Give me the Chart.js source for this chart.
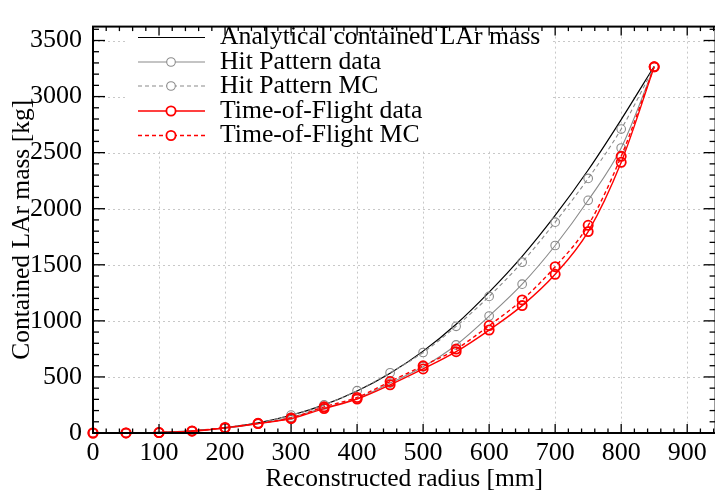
<!DOCTYPE html>
<html><head><meta charset="utf-8">
<script src="https://cdn.jsdelivr.net/npm/chart.js@4/dist/chart.umd.min.js"></script>
<style>html,body{margin:0;padding:0;background:#fff;overflow:hidden;} #wrap{width:715px;height:497px;overflow:hidden;position:relative;} canvas{position:absolute;left:0;top:0;}</style>
</head><body><div id="wrap"><canvas id="c" width="722" height="497"></canvas></div>
<script>
// ---- data ----
const radii      = [0, 50, 100, 150, 200, 250, 300, 350, 400, 450, 500, 550, 600, 650, 700, 750, 800, 850];
const analytical = [0, 0.7, 5.8, 19.7, 46.8, 91, 158, 251, 374, 533, 730, 970, 1256, 1575, 1940, 2345, 2795, 3270];
const hitData    = [0, 0.5, 4, 17, 42, 82, 140, 225, 305, 445, 590, 785, 1043, 1327, 1672, 2075, 2541, 3265];
const hitMC      = [0, 0.6, 5, 19, 46, 89, 160, 250, 377, 537, 718, 951, 1218, 1523, 1880, 2270, 2710, 3265];
const tofData    = [0, 0.4, 3.5, 16, 45, 84, 128, 218, 303, 430, 571, 725, 918, 1136, 1415, 1796, 2414, 3265];
const tofMC      = [0, 0.4, 3.8, 18, 49, 86, 134, 233, 317, 459, 599, 748, 958, 1187, 1483, 1852, 2467, 3265];
const seriesNames = ["Analytical contained LAr mass", "Hit Pattern data", "Hit Pattern MC", "Time-of-Flight data", "Time-of-Flight MC"];
const xMajorTicks = [0, 100, 200, 300, 400, 500, 600, 700, 800, 900];
const yMajorTicks = [0, 500, 1000, 1500, 2000, 2500, 3000, 3500];
const xTitle = "Reconstructed radius [mm]";
const yTitle = "Contained LAr mass [kg]";

const FONT = "'Liberation Serif', 'Times New Roman', serif";
const GRAY = '#8a8a8a';
const RED = '#ff0000';

function pts(arr){ return radii.map((r,i)=>({x:r, y:arr[i]})); }

const datasets = [
  {label: seriesNames[0], data: pts(analytical), order:5, borderColor:'#000', borderWidth:1.2, pointRadius:0, borderDash:[]},
  {label: seriesNames[1], data: pts(hitData), order:4, borderColor:GRAY, borderWidth:1.1, pointRadius:4.3, pointBorderWidth:1.1, pointBorderColor:GRAY, pointBackgroundColor:'rgba(0,0,0,0)', borderDash:[]},
  {label: seriesNames[2], data: pts(hitMC), order:3, borderColor:GRAY, borderWidth:1.1, pointRadius:4.3, pointBorderWidth:1.1, pointBorderColor:GRAY, pointBackgroundColor:'rgba(0,0,0,0)', borderDash:[4,3]},
  {label: seriesNames[3], data: pts(tofData), order:1, borderColor:RED, borderWidth:1.4, pointRadius:4.6, pointBorderWidth:1.8, pointBorderColor:RED, pointBackgroundColor:'rgba(0,0,0,0)', borderDash:[]},
  {label: seriesNames[4], data: pts(tofMC), order:2, borderColor:RED, borderWidth:1.4, pointRadius:4.6, pointBorderWidth:1.8, pointBorderColor:RED, pointBackgroundColor:'rgba(0,0,0,0)', borderDash:[4,3]},
];
datasets.forEach(d=>{ d.cubicInterpolationMode='monotone'; d.fill=false; d.clip=false; d.pointHoverRadius=d.pointRadius; });

const framePlugin = {
  id:'frame',
  beforeDatasetsDraw(chart){
    const {ctx, chartArea:a, scales:{x, y}} = chart;
    ctx.save();
    ctx.strokeStyle = '#c8c8c8'; ctx.lineWidth = 1; ctx.setLineDash([2,3]);
    xMajorTicks.forEach(v=>{ if(v===0) return; const px=Math.round(x.getPixelForValue(v))+0.5; ctx.beginPath(); ctx.moveTo(px,a.top); ctx.lineTo(px,a.bottom); ctx.stroke(); });
    yMajorTicks.forEach(v=>{ if(v===0) return; const py=Math.round(y.getPixelForValue(v))+0.5; ctx.beginPath(); ctx.moveTo(a.left,py); ctx.lineTo(a.right,py); ctx.stroke(); });
    ctx.setLineDash([]);
    ctx.fillStyle = '#fff';
    ctx.fillRect(128, 22, 422, 128);
    ctx.restore();
  },
  afterDatasetsDraw(chart){
    const {ctx, chartArea:a, scales:{x, y}} = chart;
    ctx.save();
    ctx.strokeStyle = '#000'; ctx.lineWidth = 2; ctx.setLineDash([]);
    ctx.strokeRect(a.left, a.top, a.right-a.left, a.bottom-a.top);
    ctx.lineWidth = 1.3;
    for(let v=0; v<=x.max; v+=20){
      const px = x.getPixelForValue(v);
      const major = v % 100 === 0;
      const L = major ? 9 : 4.5;
      ctx.beginPath(); ctx.moveTo(px, a.bottom); ctx.lineTo(px, a.bottom-L); ctx.stroke();
      ctx.beginPath(); ctx.moveTo(px, a.top); ctx.lineTo(px, a.top+L); ctx.stroke();
    }
    for(let v=0; v<=y.max; v+=100){
      const py = y.getPixelForValue(v);
      const major = v % 500 === 0;
      const L = major ? 12 : 6;
      ctx.beginPath(); ctx.moveTo(a.left, py); ctx.lineTo(a.left+L, py); ctx.stroke();
      ctx.beginPath(); ctx.moveTo(a.right, py); ctx.lineTo(a.right-L, py); ctx.stroke();
    }
    ctx.restore();
  },
  afterDraw(chart){
    const ctx = chart.ctx;
    ctx.save();
    const rows = [37.5, 62, 86, 111, 135.5];
    chart.data.datasets.forEach((d,i)=>{
      const yy = rows[i];
      ctx.strokeStyle = d.borderColor; ctx.lineWidth = d.borderWidth; ctx.setLineDash(d.borderDash||[]);
      ctx.beginPath(); ctx.moveTo(138, yy); ctx.lineTo(205, yy); ctx.stroke();
      ctx.setLineDash([]);
      if(d.pointRadius>0){
        ctx.fillStyle='#fff';
        ctx.lineWidth = d.pointBorderWidth; ctx.strokeStyle = d.pointBorderColor;
        ctx.beginPath(); ctx.arc(171, yy, d.pointRadius, 0, Math.PI*2); ctx.fill(); ctx.stroke();
      }
      ctx.fillStyle = '#000'; ctx.font = "25.7px " + FONT; ctx.textBaseline='middle'; ctx.textAlign='left';
      ctx.fillText(d.label, 220, yy);
    });
    ctx.restore();
  }
};

new Chart(document.getElementById('c'), {
  type:'line',
  data:{datasets},
  options:{
    responsive:false, animation:false, devicePixelRatio:1,
    layout:{padding:{top:4, right:1, left:0, bottom:0}},
    plugins:{legend:{display:false}, tooltip:{enabled:false}},
    scales:{
      x:{type:'linear', min:0, max:943,
        ticks:{color:'#000', font:{family:FONT, size:26}, padding:5, maxRotation:0, callback:v=>String(v)},
        afterBuildTicks(s){ s.ticks = xMajorTicks.map(v=>({value:v})); },
        grid:{display:false, drawTicks:false}, border:{display:false},
        title:{display:true, text:xTitle, color:'#000', font:{family:FONT, size:25.5}, padding:{top:0, bottom:2}},
        afterFit(s){ s.height = 64; }
      },
      y:{type:'linear', min:0, max:3624,
        ticks:{color:'#000', font:{family:FONT, size:26}, padding:11, callback:v=>String(v)},
        afterBuildTicks(s){ s.ticks = yMajorTicks.map(v=>({value:v})); },
        grid:{display:false, drawTicks:false}, border:{display:false},
        title:{display:true, text:yTitle, color:'#000', font:{family:FONT, size:25.5}, padding:{top:7, bottom:0}},
        afterFit(s){ s.width = 93; }
      }
    }
  },
  plugins:[framePlugin]
});
</script></body></html>
